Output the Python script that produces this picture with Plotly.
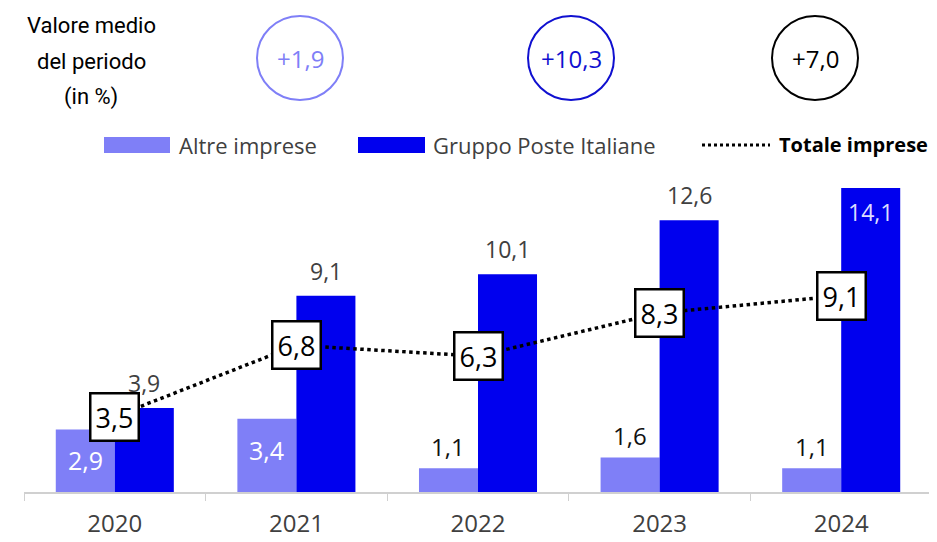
import plotly.graph_objects as go

years = ["2020", "2021", "2022", "2023", "2024"]
altre = [2.9, 3.4, 1.1, 1.6, 1.1]
gruppo = [3.9, 9.1, 10.1, 12.6, 14.1]
totale = [3.5, 6.8, 6.3, 8.3, 9.1]
medie_labels = ["+1,9", "+10,3", "+7,0"]
series_names = ["Altre imprese", "Gruppo Poste Italiane", "Totale imprese"]

# label placement style (inside/outside of bar)
altre_inside = [True, True, False, False, False]
gruppo_inside = [False, False, False, False, True]

C_ALTRE = "#7f7ff7"
C_GPI = "#0000ee"
FONT = "Open Sans, Noto Sans, sans-serif"

# the page body has an 8px margin; size the figure so it fills the window
OFF = 8
W, H = 937 - OFF, 542 - OFF
PL, PR, PT, PB = 24, 932, 170, 492  # plot area in screen pixels
ML, MR, MT, MB = PL - OFF, W - (PR - OFF), PT - OFF, H - (PB - OFF)
PW, PH = PR - PL, PB - PT
YMAX = 14.93


def px(x):
    return (x - PL) / PW


def py(y):
    return (PB - y) / PH


def fmt(v):
    return f"{v:.1f}".replace(".", ",")


fig = go.Figure()
fig.add_bar(x=years, y=altre, name=series_names[0], marker_color=C_ALTRE,
            marker_line_width=0, showlegend=False, hoverinfo="skip")
fig.add_bar(x=years, y=gruppo, name=series_names[1], marker_color=C_GPI,
            marker_line_width=0, showlegend=False, hoverinfo="skip")
fig.add_scatter(x=years, y=totale, name=series_names[2], mode="lines",
                line=dict(color="black", width=3.5, dash="dot"),
                showlegend=False, hoverinfo="skip")

ann = []
BW_PX = PW / 5 * 0.65 / 2

for i, v in enumerate(altre):
    if altre_inside[i]:
        ann.append(dict(x=i, y=v, xref="x", yref="y", text=fmt(v), showarrow=False,
                        xshift=-BW_PX / 2, yanchor="top", yshift=-12,
                        font=dict(family=FONT, size=25, color="white")))
    else:
        ann.append(dict(x=i, y=v, xref="x", yref="y", text=fmt(v), showarrow=False,
                        xshift=-BW_PX / 2, yanchor="bottom", yshift=3,
                        font=dict(family=FONT, size=24, color="#111111")))

for i, v in enumerate(gruppo):
    if gruppo_inside[i]:
        ann.append(dict(x=i, y=v, xref="x", yref="y", text=fmt(v), showarrow=False,
                        xshift=BW_PX / 2, yanchor="top", yshift=-6,
                        font=dict(family=FONT, size=23, color="#dcdcff")))
    else:
        ann.append(dict(x=i, y=v, xref="x", yref="y", text=fmt(v), showarrow=False,
                        xshift=BW_PX / 2, yanchor="bottom", yshift=7,
                        font=dict(family=FONT, size=23, color="#404040")))

for i, v in enumerate(totale):
    ann.append(dict(x=i, y=v, xref="x", yref="y", text=fmt(v), showarrow=False,
                    bgcolor="white", bordercolor="black", borderwidth=2.5, borderpad=4,
                    font=dict(family=FONT, size=27, color="black")))

# header text
for txt, yy in [("Valore medio", 25), ("del periodo", 61), ("(in %)", 97)]:
    ann.append(dict(x=px(91), y=py(yy), xref="paper", yref="paper", text=txt,
                    showarrow=False, xanchor="center", yanchor="middle",
                    font=dict(family="Roboto, sans-serif", size=22, color="black")))

shapes = []
circ = [(300, C_ALTRE), (571, "#1010d0"), (815, "black")]
for (cx, col), lab in zip(circ, medie_labels):
    shapes.append(dict(type="circle", xref="paper", yref="paper",
                       x0=px(cx - 43), x1=px(cx + 43), y0=py(58 - 42), y1=py(58 + 42),
                       line=dict(color=col, width=2)))
    ann.append(dict(x=px(cx), y=py(58), xref="paper", yref="paper", text=lab,
                    showarrow=False, xanchor="center", yanchor="middle",
                    font=dict(family=FONT, size=24, color=col)))

# legend
LY = 145
shapes.append(dict(type="rect", xref="paper", yref="paper", x0=px(104), x1=px(170),
                   y0=py(LY - 8), y1=py(LY + 8), fillcolor=C_ALTRE, line_width=0))
shapes.append(dict(type="rect", xref="paper", yref="paper", x0=px(358), x1=px(425),
                   y0=py(LY - 8), y1=py(LY + 8), fillcolor=C_GPI, line_width=0))
shapes.append(dict(type="line", xref="paper", yref="paper", x0=px(702), x1=px(770),
                   y0=py(LY), y1=py(LY), line=dict(color="black", width=3, dash="dot")))
for x0, txt, col, sz in [(177, series_names[0], "#404040", 22),
                         (431, series_names[1], "#404040", 22),
                         (777, "<b>" + series_names[2] + "</b>", "black", 20)]:
    ann.append(dict(x=px(x0), y=py(LY), xref="paper", yref="paper", text=txt,
                    showarrow=False, xanchor="left", yanchor="middle",
                    font=dict(family=FONT, size=sz, color=col)))

fig.update_layout(
    width=W, height=H, margin=dict(l=ML, r=MR, t=MT, b=MB, autoexpand=False),
    paper_bgcolor="white", plot_bgcolor="white",
    barmode="group", bargap=0.35, bargroupgap=0,
    annotations=ann, shapes=shapes, showlegend=False,
    xaxis=dict(type="category", range=[-0.5, 4.5], autorange=False, automargin=False,
               showline=True, linecolor="#d0d0d0", linewidth=2,
               ticks="outside", tickson="boundaries", ticklen=7, tickcolor="#d0d0d0",
               tickwidth=1, showgrid=False, tickangle=0, ticklabelstandoff=9,
               tickfont=dict(family=FONT, size=24, color="#404040")),
    yaxis=dict(range=[0, YMAX], autorange=False, visible=False, showgrid=False,
               zeroline=False, automargin=False),
)

fig.write_html("out.html")
